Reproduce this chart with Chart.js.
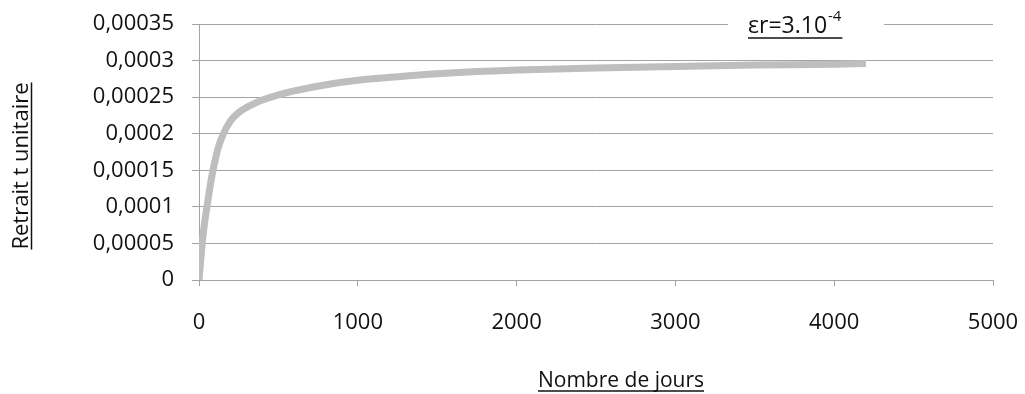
<!DOCTYPE html>
<html>
<head>
<meta charset="utf-8">
<script src="https://cdn.jsdelivr.net/npm/chart.js@4"></script>
<style>
  body { margin: 0; background: #fff; }
  canvas { display: block; }
</style>
</head>
<body>
<canvas id="retrait-chart" width="1025" height="394"></canvas>
<script>
// data
const jours = [0, 10, 20, 35, 50, 70, 90, 120, 150, 200, 250, 300, 350, 400, 500, 600, 800, 1000, 1250, 1500, 2000, 2500, 3000, 3500, 4000, 4200];
const retrait = [0, 0.000025, 0.000050, 0.000078, 0.000100, 0.000128, 0.000152, 0.000180, 0.000198, 0.000218, 0.000229, 0.000236, 0.0002415, 0.000246, 0.000253, 0.0002585, 0.000267, 0.000273, 0.000278, 0.000282, 0.000287, 0.000290, 0.000292, 0.000294, 0.000295, 0.000296];

const yTickValues = [0, 0.00005, 0.0001, 0.00015, 0.0002, 0.00025, 0.0003, 0.00035];
const yTickLabels = ['0', '0,00005', '0,0001', '0,00015', '0,0002', '0,00025', '0,0003', '0,00035'];
const xTickValues = [0, 1000, 2000, 3000, 4000, 5000];
const xTickLabels = ['0', '1000', '2000', '3000', '4000', '5000'];

const yTitle = 'Retrait t unitaire';
const xTitle = 'Nombre de jours';
const legendText = 'εr=3.10';
const legendSup = '-4';

const FONT = "'Open Sans', sans-serif";
const GRID = '#a3a3a3';

// axis titles and the legend box, all underlined like the original
const decorations = {
  id: 'decorations',
  afterDraw(chart) {
    const c = chart.ctx;
    c.save();
    c.fillStyle = '#111';
    c.strokeStyle = '#111';
    c.lineWidth = 1.5;

    // y title, rotated
    c.font = '22px ' + FONT;
    c.textAlign = 'center';
    c.textBaseline = 'alphabetic';
    c.save();
    c.translate(28, 166);
    c.rotate(-Math.PI / 2);
    c.fillText(yTitle, 0, 0);
    let w = c.measureText(yTitle).width;
    c.beginPath();
    c.moveTo(-w / 2, 3.5);
    c.lineTo(w / 2, 3.5);
    c.stroke();
    c.restore();

    // x title
    c.font = '21px ' + FONT;
    const cx = 621;
    c.fillText(xTitle, cx, 387);
    w = c.measureText(xTitle).width;
    c.beginPath();
    c.moveTo(cx - w / 2, 391);
    c.lineTo(cx + w / 2, 391);
    c.stroke();

    // legend: white box over the top gridline
    c.fillStyle = '#fff';
    c.fillRect(728, 16, 156, 16);
    c.fillStyle = '#111';
    c.textAlign = 'left';
    c.font = '23px ' + FONT;
    c.fillText(legendText, 748, 33);
    const w1 = c.measureText(legendText).width;
    c.font = '15px ' + FONT;
    c.fillText(legendSup, 748 + w1 + 1, 21);
    const w2 = c.measureText(legendSup).width;
    c.beginPath();
    c.moveTo(748, 38);
    c.lineTo(748 + w1 + w2 + 2, 38);
    c.stroke();
    c.restore();
  }
};

const ctx = document.getElementById('retrait-chart').getContext('2d');

const retrait_chart = new Chart(ctx, {
  type: 'line',
  data: {
    datasets: [{
      data: jours.map((j, i) => ({ x: j, y: retrait[i] })),
      borderColor: '#bebebe',
      borderWidth: 7,
      pointRadius: 0,
      fill: false,
      cubicInterpolationMode: 'monotone',
    }]
  },
  options: {
    responsive: false,
    animation: false,
    layout: { padding: { top: 24, right: 32, left: 0, bottom: 0 } },
    plugins: {
      legend: { display: false },
      tooltip: { enabled: false },
    },
    scales: {
      x: {
        type: 'linear',
        min: 0,
        max: 5000,
        afterFit: (scale) => {
          scale.height = 114;
          scale.paddingLeft = 0;
          scale.paddingRight = 0;
        },
        afterBuildTicks: (scale) => { scale.ticks = xTickValues.map(v => ({ value: v })); },
        grid: { drawOnChartArea: false, color: GRID, tickLength: 6 },
        border: { display: true, color: GRID },
        ticks: {
          padding: 24,
          color: '#111',
          font: { family: FONT, size: 22 },
          maxRotation: 0,
          callback: (v, i) => xTickLabels[i],
        },
      },
      y: {
        min: 0,
        max: 0.00035,
        afterFit: (scale) => {
          scale.width = 199;
          scale.paddingTop = 0;
          scale.paddingBottom = 0;
        },
        afterBuildTicks: (scale) => { scale.ticks = yTickValues.map(v => ({ value: v })); },
        grid: { color: GRID, tickLength: 7 },
        border: { display: true, color: GRID },
        ticks: {
          padding: 18,
          color: '#111',
          font: { family: FONT, size: 22 },
          callback: (v, i) => yTickLabels[i],
        },
      },
    },
  },
  plugins: [decorations],
});
</script>
</body>
</html>
